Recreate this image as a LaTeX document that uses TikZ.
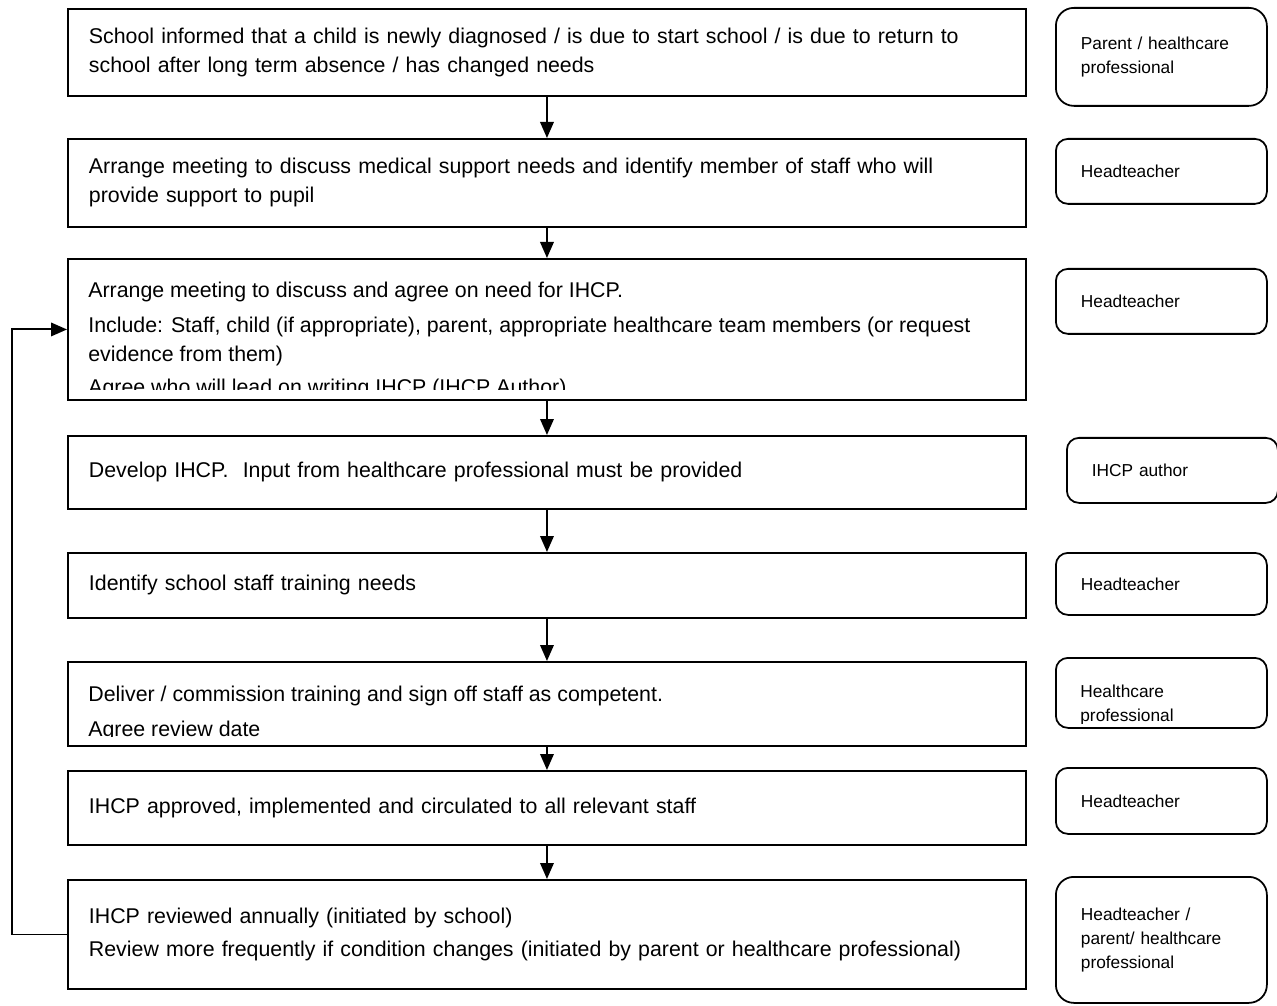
\documentclass[tikz,border=0pt]{standalone}
\usepackage{fontspec}
\setmainfont{Liberation Sans}
\usepackage{xcolor}
\usepackage{tikz}
\usetikzlibrary{
  arrows.meta,
  positioning,
  calc
}
\newlength\px
\setlength\px{0.02cm}

\begin{document}
\begin{tikzpicture}[
  x=0.02cm, y=-0.02cm,
  stepbox/.style={draw, line width=1.1pt, anchor=north west, minimum width=958\px,
    text width=916\px, inner xsep=21\px, align=left, font=\fontsize{12.15}{16.5}\selectfont},
  steptext/.style={anchor=north west, inner sep=0pt, align=left, font=\fontsize{12.15}{16.5}\selectfont},
  rolebox/.style={draw, line width=1pt, rounded corners=12\px, anchor=north west, minimum width=211\px,
    text width=161\px, inner xsep=25\px, align=left, font=\fontsize{9.85}{13.6}\selectfont},
  roletext/.style={anchor=north west, inner sep=0pt, align=left, font=\fontsize{9.85}{13.6}\selectfont},
  arr/.style={-{Triangle[length=0.32cm, width=0.27cm]}, line width=1.1pt},
]
\useasboundingbox (0,0) rectangle (1277,1006);

\node[stepbox, minimum height=87\px] (st1) at (67,8) {School informed that a child is newly diagnosed / is due to start school / is due to return to\\school after long term absence / has changed needs};
\node[stepbox, minimum height=88\px] (st2) at (67,138) {Arrange meeting to discuss medical support needs and identify member of staff who will\\provide support to pupil};
\node[stepbox, minimum height=141\px] (st3) at (67,258) {};
\begin{scope}
  \clip (st3.north west) rectangle ([yshift=11\px]st3.south east);
  \node[steptext] (tx3) at (88,282) {Arrange meeting to discuss and agree on need for IHCP.\\[3.5pt]
    Include: Staff, child (if appropriate), parent, appropriate healthcare team members (or request\\
    evidence from them)\\[2pt]
    Agree who will lead on writing IHCP (IHCP Author)};
\end{scope}
\node[stepbox, minimum height=73\px] (st4) at (67,435) {Develop IHCP.\ \ Input from healthcare professional must be provided};
\node[stepbox, minimum height=65\px] (st5) at (67,552) {Identify school staff training needs};
\node[stepbox, minimum height=84\px] (st6) at (67,661) {};
\begin{scope}
  \clip (st6.north west) rectangle ([yshift=10\px]st6.south east);
  \node[steptext] (tx6) at (88,686) {Deliver / commission training and sign off staff as competent.\\[3.5pt]
    Agree review date};
\end{scope}
\node[stepbox, minimum height=74\px] (st7) at (67,770) {IHCP approved, implemented and circulated to all relevant staff};
\node[stepbox, minimum height=109\px] (st8) at (67,879) {IHCP reviewed annually (initiated by school)\\[2pt]
  Review more frequently if condition changes (initiated by parent or healthcare professional)};

\foreach \a/\b in {st1/st2, st2/st3, st3/st4, st4/st5, st5/st6, st6/st7, st7/st8}
  \draw[arr] (\a) -- (\b);

% review loops back
\coordinate (loop) at (12,0);
\draw[arr] (st8.west) -- (st8.west -| loop) |- (st3.west);

% who is responsible
\node[rolebox, rounded corners=18\px, minimum height=98\px] (who1) at (1055,7) {Parent / healthcare\\professional};
\node[rolebox, minimum height=65\px] (who2) at (1055,138) {Headteacher};
\node[rolebox, minimum height=65\px] (who3) at (1055,268) {Headteacher};
\node[rolebox, minimum height=65\px] (who4) at (1066,437) {IHCP author};
\node[rolebox, minimum height=62\px] (who5) at (1055,552) {Headteacher};
\node[rolebox, minimum height=70\px] (who6) at (1055,657) {};
\begin{scope}
  \clip (who6.north west) rectangle ([yshift=5\px]who6.south east);
  \node[roletext] (tx6r) at (1080,685) {Healthcare\\professional};
\end{scope}
\node[rolebox, minimum height=66\px] (who7) at (1055,767) {Headteacher};
\node[rolebox, rounded corners=18\px, minimum height=126\px] (who8) at (1055,876) {Headteacher /\\parent/ healthcare\\professional};

\end{tikzpicture}
\end{document}
